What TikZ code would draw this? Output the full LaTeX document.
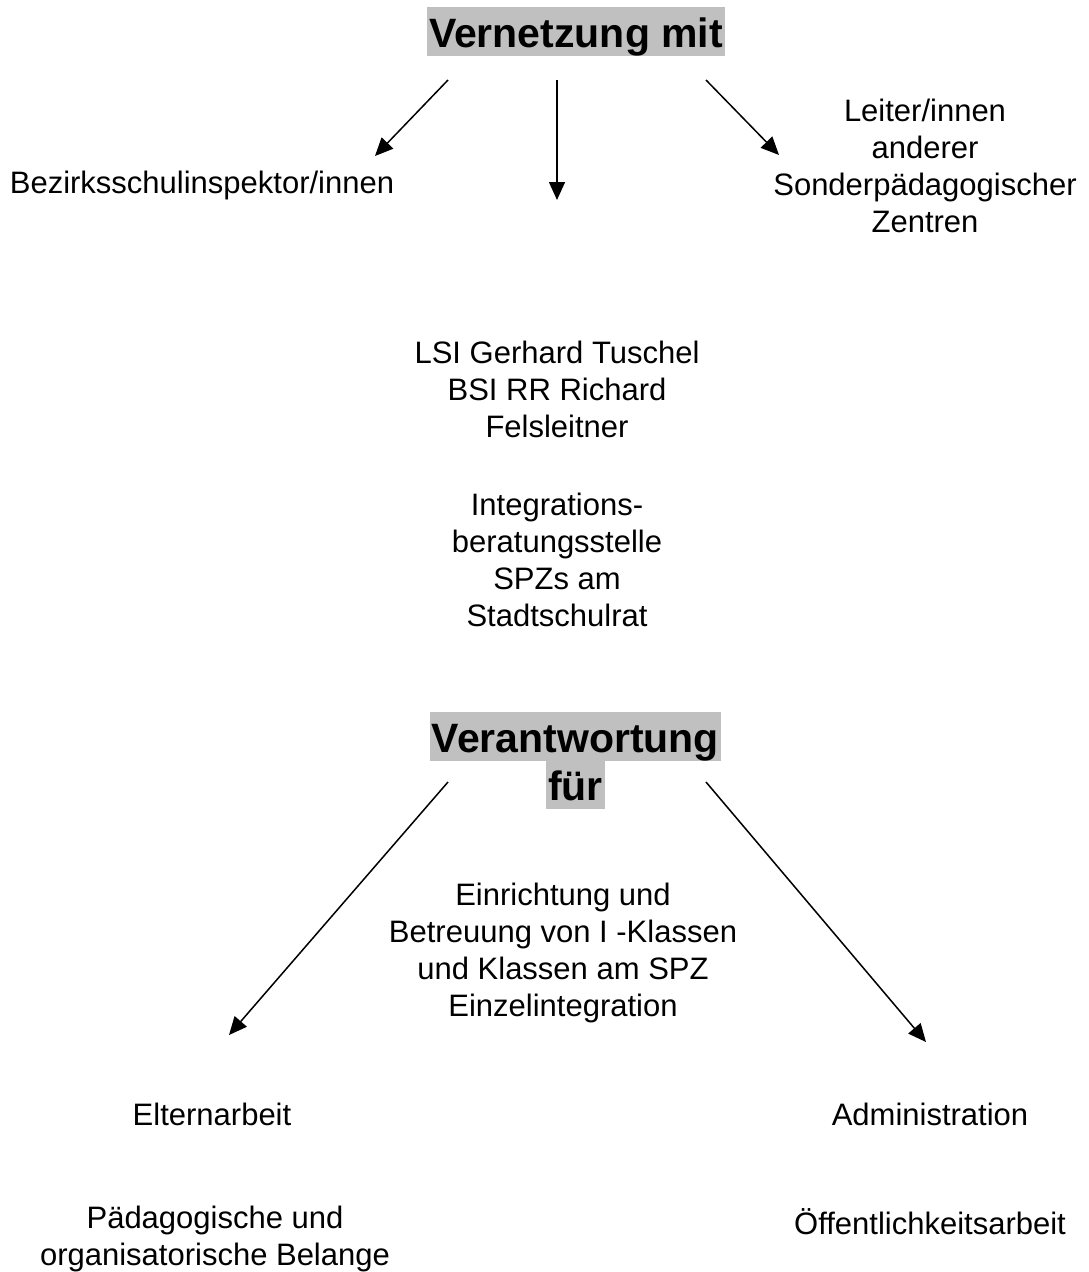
\documentclass[tikz,border=0pt]{standalone}
\usepackage{fontspec}
\setmainfont{Liberation Sans}
\usepackage{xcolor}
\usetikzlibrary{arrows.meta}
\definecolor{hlgray}{RGB}{192,192,192}

\begin{document}
\begin{tikzpicture}[
    x=1pt,y=-1pt,
    txt/.style={align=center,inner sep=0pt,font=\fontsize{31}{37}\selectfont},
    heading/.style={fill=hlgray,inner xsep=2pt,inner ysep=0pt,text height=40pt,text depth=9pt,
      font=\fontsize{41}{49}\selectfont\bfseries,anchor=base},
    pfeil/.style={-{Triangle[length=18pt,width=16pt]},line width=1.5pt}
    ]
    \useasboundingbox (0,0) rectangle (1089,1272);

    % Vernetzung
    \node[heading] (vernetzung) at (576,47) {Vernetzung mit};

    \node[txt,anchor=base] (bsi) at (202,193) {Bezirksschulinspektor/innen};
    \node[txt] (leiter) at (925,166) {Leiter/innen\\anderer\\Sonderpädagogischer\\Zentren};
    \node[txt] (lsi) at (557,389) {LSI Gerhard Tuschel\\BSI RR Richard\\Felsleitner};
    \node[txt] (ibs) at (557,560) {Integrations-\\beratungsstelle\\SPZs am\\Stadtschulrat};

    \coordinate (v1) at (448,80);
    \coordinate (v2) at (557,80);
    \coordinate (v3) at (706,80);
    \coordinate (e1) at (375,156);
    \coordinate (e2) at (557,200);
    \coordinate (e3) at (779,155);

    \draw[pfeil] (v1) -- (e1);
    \draw[pfeil] (v2) -- (e2);
    \draw[pfeil] (v3) -- (e3);

    % Verantwortung
    \node[heading] (verantw) at (575.5,752) {Verantwortung};
    \node[heading] (fuer) at (575.5,800) {für};

    \node[txt] (einr) at (563,953) {Einrichtung und\\Betreuung von I -Klassen\\und Klassen am SPZ\\Einzelintegration};
    \node[txt,anchor=base] (eltern) at (212,1125) {Elternarbeit};
    \node[txt,anchor=base] (admin) at (930,1125) {Administration};
    \node[txt] (paed) at (215,1239) {Pädagogische und\\organisatorische Belange};
    \node[txt,anchor=base] (oeff) at (930,1234) {Öffentlichkeitsarbeit};

    \coordinate (w1) at (448,782);
    \coordinate (w2) at (706,782);
    \coordinate (f1) at (229,1035);
    \coordinate (f2) at (926,1042);

    \draw[pfeil] (w1) -- (f1);
    \draw[pfeil] (w2) -- (f2);
\end{tikzpicture}
\end{document}
